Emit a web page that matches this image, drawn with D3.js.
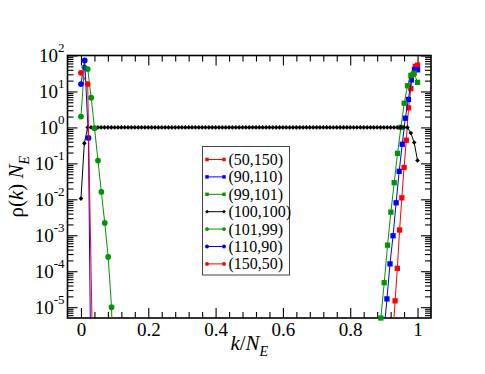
<!DOCTYPE html>
<html>
<head>
<meta charset="utf-8" />
<title>rho(k) N_E</title>
<script src="https://d3js.org/d3.v7.min.js"></script>
<style>
  body { margin: 0; background: #fff; }
  svg text { font-family: "Liberation Serif", "DejaVu Serif", serif; fill: #000; }
</style>
</head>
<body>
<svg id="chart" width="485" height="374"></svg>
<script>
// ---- data ----
// x = k / N_E ; y = rho(k) N_E
var xTicks = [0, 0.2, 0.4, 0.6, 0.8, 1];
var yExponents = [-5, -4, -3, -2, -1, 0, 1, 2];

// right-hand curves (squares), values from kStart up to k = N_E
var vals50_150 = [1.5e-6, 1.5e-5, 1.2e-4, 0.0014, 0.011, 0.077, 0.44, 3.5, 12, 30, 50, 54];
var vals90_110 = [2e-6, 1.7e-5, 1.6e-4, 9.7e-4, 0.008, 0.06, 0.34, 1.8, 6, 21, 41, 40];
var vals99_101 = [5e-6, 4.8e-5, 5.3e-4, 0.0044, 0.029, 0.19, 1.0, 4.7, 14.4, 28, 32, 17.9];

// symmetric case, k = 0 .. 100
var vals100_100 = [
  0.0105, 0.36,
  1, 1, 1, 1, 1, 1, 1, 1, 1, 1, 1, 1,
  1, 1, 1, 1, 1, 1, 1, 1, 1, 1, 1, 1,
  1, 1, 1, 1, 1, 1, 1, 1, 1, 1, 1, 1,
  1, 1, 1, 1, 1, 1, 1, 1, 1, 1, 1, 1,
  1, 1, 1, 1, 1, 1, 1, 1, 1, 1, 1, 1,
  1, 1, 1, 1, 1, 1, 1, 1, 1, 1, 1, 1,
  1, 1, 1, 1, 1, 1, 1, 1, 1, 1, 1, 1,
  1, 1, 1, 1, 1, 1, 1, 1, 1, 1, 1, 1,
  0.7, 0.38, 0.12
];

// left-hand curves (circles), values from k = 0
var vals101_99 = [2.0, 47, 42, 6.7, 0.95, 0.12, 0.016, 0.0022, 2.5e-4, 1.0e-5, 1e-9];
var vals110_90 = [16, 73, 0.51, 2.5e-11];
var vals150_50 = [33, 16, 8e-10];

var series = [
  {label: "(50,150)",  ne: 150, k0: 139, vals: vals50_150,  color: "#ff0000", shape: "square"},
  {label: "(90,110)",  ne: 110, k0: 99,  vals: vals90_110,  color: "#0000ff", shape: "square"},
  {label: "(99,101)",  ne: 101, k0: 90,  vals: vals99_101,  color: "#009600", shape: "square"},
  {label: "(100,100)", ne: 100, k0: 0,   vals: vals100_100, color: "#000000", shape: "diamond"},
  {label: "(101,99)",  ne: 99,  k0: 0,   vals: vals101_99,  color: "#009600", shape: "circle"},
  {label: "(110,90)",  ne: 90,  k0: 0,   vals: vals110_90,  color: "#0000ff", shape: "circle"},
  {label: "(150,50)",  ne: 50,  k0: 0,   vals: vals150_50,  color: "#ff0000", shape: "circle"}
];

// ---- layout ----
var L = 67.5, R = 431, T = 55.5, B = 318;
var FONT = "Liberation Serif, DejaVu Serif, serif";
var svg = d3.select("#chart");

var x = d3.scaleLinear().domain([-0.04, 1.04]).range([L, R]);
var y = d3.scaleLog().domain([5e-6, 100]).range([B, T]);

var xMinor = d3.range(0.04, 1.0, 0.04).filter(function(v) {
  return Math.abs(v * 5 - Math.round(v * 5)) > 1e-6;
});
var yMajor = yExponents.map(function(e) { return Math.pow(10, e); });
var yMinor = [];
for (var e = -6; e < 2; e++) {
  for (var m = 2; m < 10; m++) {
    var v = m * Math.pow(10, e);
    if (v > 5e-6 && v < 100) yMinor.push(v);
  }
}

function styleTicks(g) {
  g.select(".domain").remove();
  g.attr("font-family", FONT);
  g.selectAll(".tick line").attr("stroke", "#000").attr("stroke-width", 1.1);
}

// minor ticks
svg.append("g").attr("transform", "translate(0," + B + ")")
  .call(d3.axisBottom(x).tickValues(xMinor).tickSize(-6).tickFormat(""))
  .call(styleTicks);
svg.append("g").attr("transform", "translate(0," + T + ")")
  .call(d3.axisTop(x).tickValues(xMinor).tickSize(-6).tickFormat(""))
  .call(styleTicks);
svg.append("g").attr("transform", "translate(" + L + ",0)")
  .call(d3.axisLeft(y).tickValues(yMinor).tickSize(-6).tickFormat(""))
  .call(styleTicks);
svg.append("g").attr("transform", "translate(" + R + ",0)")
  .call(d3.axisRight(y).tickValues(yMinor).tickSize(-6).tickFormat(""))
  .call(styleTicks);

// major ticks
var xAxis = svg.append("g").attr("transform", "translate(0," + B + ")")
  .call(d3.axisBottom(x).tickValues(xTicks).tickSize(-10).tickPadding(5)
    .tickFormat(function(d) { return d === 0 || d === 1 ? String(d) : d.toFixed(1); }))
  .call(styleTicks);
xAxis.selectAll(".tick text").attr("font-size", 19);

svg.append("g").attr("transform", "translate(0," + T + ")")
  .call(d3.axisTop(x).tickValues(xTicks).tickSize(-10).tickFormat(""))
  .call(styleTicks);

var yAxis = svg.append("g").attr("transform", "translate(" + L + ",0)")
  .call(d3.axisLeft(y).tickValues(yMajor).tickSize(-10).tickPadding(3)
    .tickFormat(function(d) { return String(Math.round(Math.log10(d))); }))
  .call(styleTicks);
yAxis.selectAll(".tick text").each(function() {
  var t = d3.select(this);
  var ex = t.text();
  t.text(null).attr("font-size", 19);
  t.append("tspan").text("10");
  t.append("tspan").attr("dy", -10).attr("font-size", 13).text(ex);
});

svg.append("g").attr("transform", "translate(" + R + ",0)")
  .call(d3.axisRight(y).tickValues(yMajor).tickSize(-10).tickFormat(""))
  .call(styleTicks);

// frame
svg.append("rect")
  .attr("x", L).attr("y", T).attr("width", R - L).attr("height", B - T)
  .attr("fill", "none").attr("stroke", "#000").attr("stroke-width", 1.6);

// ---- data ----
svg.append("clipPath").attr("id", "plotclip")
  .append("rect").attr("x", L).attr("y", T).attr("width", R - L).attr("height", B - T);

var symbols = {
  circle: d3.symbol().type(d3.symbolCircle).size(26),
  square: d3.symbol().type(d3.symbolSquare).size(28),
  diamond: d3.symbol().type(d3.symbolSquare).size(11)
};

var line = d3.line()
  .x(function(d) { return x(d.kx); })
  .y(function(d) { return y(d.v); });

series.forEach(function(s) {
  var pts = s.vals.map(function(v, i) { return {kx: (s.k0 + i) / s.ne, v: v}; });
  svg.append("path")
    .datum(pts)
    .attr("clip-path", "url(#plotclip)")
    .attr("fill", "none")
    .attr("stroke", s.color)
    .attr("stroke-width", 1)
    .attr("d", line);
  svg.append("g").selectAll("path")
    .data(pts.filter(function(d) { return y(d.v) <= B + 1; }))
    .join("path")
    .attr("d", symbols[s.shape]())
    .attr("transform", function(d) {
      return "translate(" + x(d.kx) + "," + y(d.v) + ")" + (s.shape === "diamond" ? " rotate(45)" : "");
    })
    .attr("fill", s.color);
});

// ---- legend ----
var lg = svg.append("g");
lg.append("rect")
  .attr("x", 202.5).attr("y", 146.5).attr("width", 87).attr("height", 128.5)
  .attr("fill", "#fff").attr("stroke", "#444").attr("stroke-width", 1);

var legendSym = {
  circle: d3.symbol().type(d3.symbolCircle).size(12),
  square: d3.symbol().type(d3.symbolSquare).size(12),
  diamond: d3.symbol().type(d3.symbolSquare).size(7)
};

var rows = lg.selectAll("g.row").data(series).join("g")
  .attr("class", "row")
  .attr("transform", function(d, i) { return "translate(0," + (159.5 + i * 17.4) + ")"; });
rows.append("line")
  .attr("x1", 207).attr("x2", 224).attr("y1", 0).attr("y2", 0)
  .attr("stroke", function(d) { return d.color; }).attr("stroke-width", 1);
[207, 224].forEach(function(px) {
  rows.append("path")
    .attr("d", function(d) { return legendSym[d.shape](); })
    .attr("transform", function(d) {
      return "translate(" + px + ",0)" + (d.shape === "diamond" ? " rotate(45)" : "");
    })
    .attr("fill", function(d) { return d.color; });
});
rows.append("text")
  .attr("x", 228.5).attr("y", 5.5)
  .attr("font-size", 16)
  .text(function(d) { return d.label; });

// ---- axis titles ----
var xt = svg.append("text")
  .attr("x", (L + R) / 2).attr("y", 350)
  .attr("text-anchor", "middle").attr("font-size", 21);
xt.append("tspan").attr("font-style", "italic").text("k");
xt.append("tspan").text("/");
xt.append("tspan").attr("font-style", "italic").text("N");
xt.append("tspan").attr("font-style", "italic").attr("font-size", 14).attr("dy", 6).text("E");

var yt = svg.append("text")
  .attr("transform", "translate(23," + (T + B) / 2 + ") rotate(-90)")
  .attr("text-anchor", "middle").attr("font-size", 21);
yt.append("tspan").text("\u03c1(");
yt.append("tspan").attr("font-style", "italic").text("k");
yt.append("tspan").text(") ");
yt.append("tspan").attr("font-style", "italic").text("N");
yt.append("tspan").attr("font-style", "italic").attr("font-size", 14).attr("dy", 6).text("E");
</script>
</body>
</html>
